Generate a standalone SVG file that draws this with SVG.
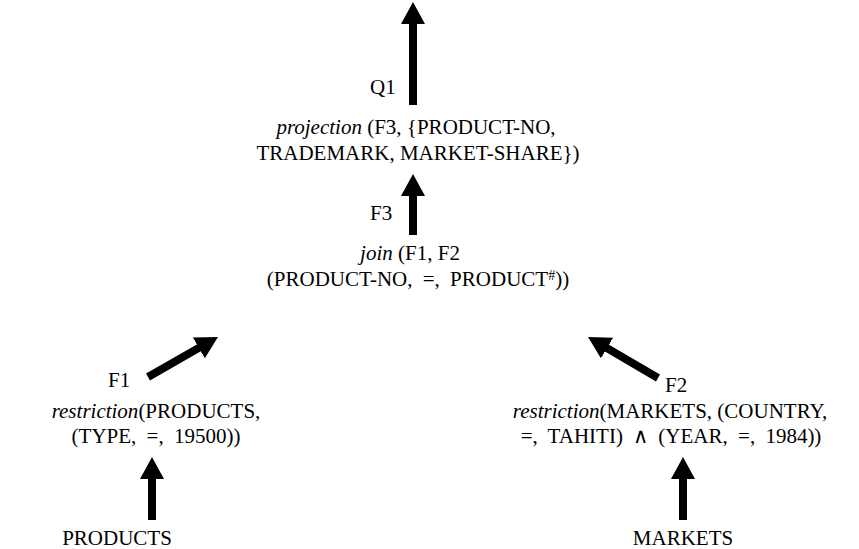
<svg xmlns="http://www.w3.org/2000/svg" width="859" height="549" viewBox="0 0 859 549">
<style>
text{font-family:"Liberation Serif","Times New Roman",serif;font-size:21px;fill:#000}
.m{text-anchor:middle}
.i{font-style:italic}
.w{word-spacing:5px}
.sup{font-size:14px}
.c{stroke:#000;stroke-width:8;fill:none}
</style>
<defs>
<marker id="ah" viewBox="0 0 22 24" markerWidth="22" markerHeight="24" refX="2" refY="12" orient="auto" markerUnits="userSpaceOnUse">
<path d="M0,0 L22,12 L0,24 z" fill="#000"/>
</marker>
</defs>
<rect width="859" height="549" fill="#fff"/>
<g id="connectors">
<line class="c" x1="413" y1="105" x2="413" y2="22" marker-end="url(#ah)"/>
<line class="c" x1="413" y1="235" x2="413" y2="194" marker-end="url(#ah)"/>
<line class="c" x1="148" y1="377" x2="200.6" y2="346.9" marker-end="url(#ah)"/>
<line class="c" x1="658" y1="378" x2="605.3" y2="347.1" marker-end="url(#ah)"/>
<line class="c" x1="152" y1="520" x2="152" y2="477" marker-end="url(#ah)"/>
<line class="c" x1="683" y1="520" x2="683" y2="477" marker-end="url(#ah)"/>
</g>
<g id="label-q1"><text x="370" y="94">Q1</text></g>
<g id="node-projection">
<text class="m" x="416" y="134"><tspan class="i">projection</tspan> (F3, {PRODUCT-NO,</text>
<text class="m" x="418" y="160">TRADEMARK, MARKET-SHARE})</text>
</g>
<g id="label-f3"><text x="370" y="220">F3</text></g>
<g id="node-join">
<text class="m" x="410" y="260"><tspan class="i">join</tspan> (F1, F2</text>
<text class="m w" x="418" y="286">(PRODUCT-NO, =, PRODUCT<tspan class="sup" dy="-6">#</tspan><tspan dy="6">))</tspan></text>
</g>
<g id="label-f1"><text x="108" y="387">F1</text></g>
<g id="label-f2"><text x="665" y="392">F2</text></g>
<g id="node-restriction-products">
<text class="m" x="156" y="418"><tspan class="i">restriction</tspan>(PRODUCTS,</text>
<text class="m w" x="156" y="443">(TYPE, =, 19500))</text>
</g>
<g id="node-restriction-markets">
<text class="m" x="670" y="418"><tspan class="i">restriction</tspan>(MARKETS, (COUNTRY,</text>
<text class="m w" x="671" y="443">=, TAHITI) ∧ (YEAR, =, 1984))</text>
</g>
<g id="node-products"><text class="m" x="117" y="545">PRODUCTS</text></g>
<g id="node-markets"><text class="m" x="683" y="545">MARKETS</text></g>
</svg>
